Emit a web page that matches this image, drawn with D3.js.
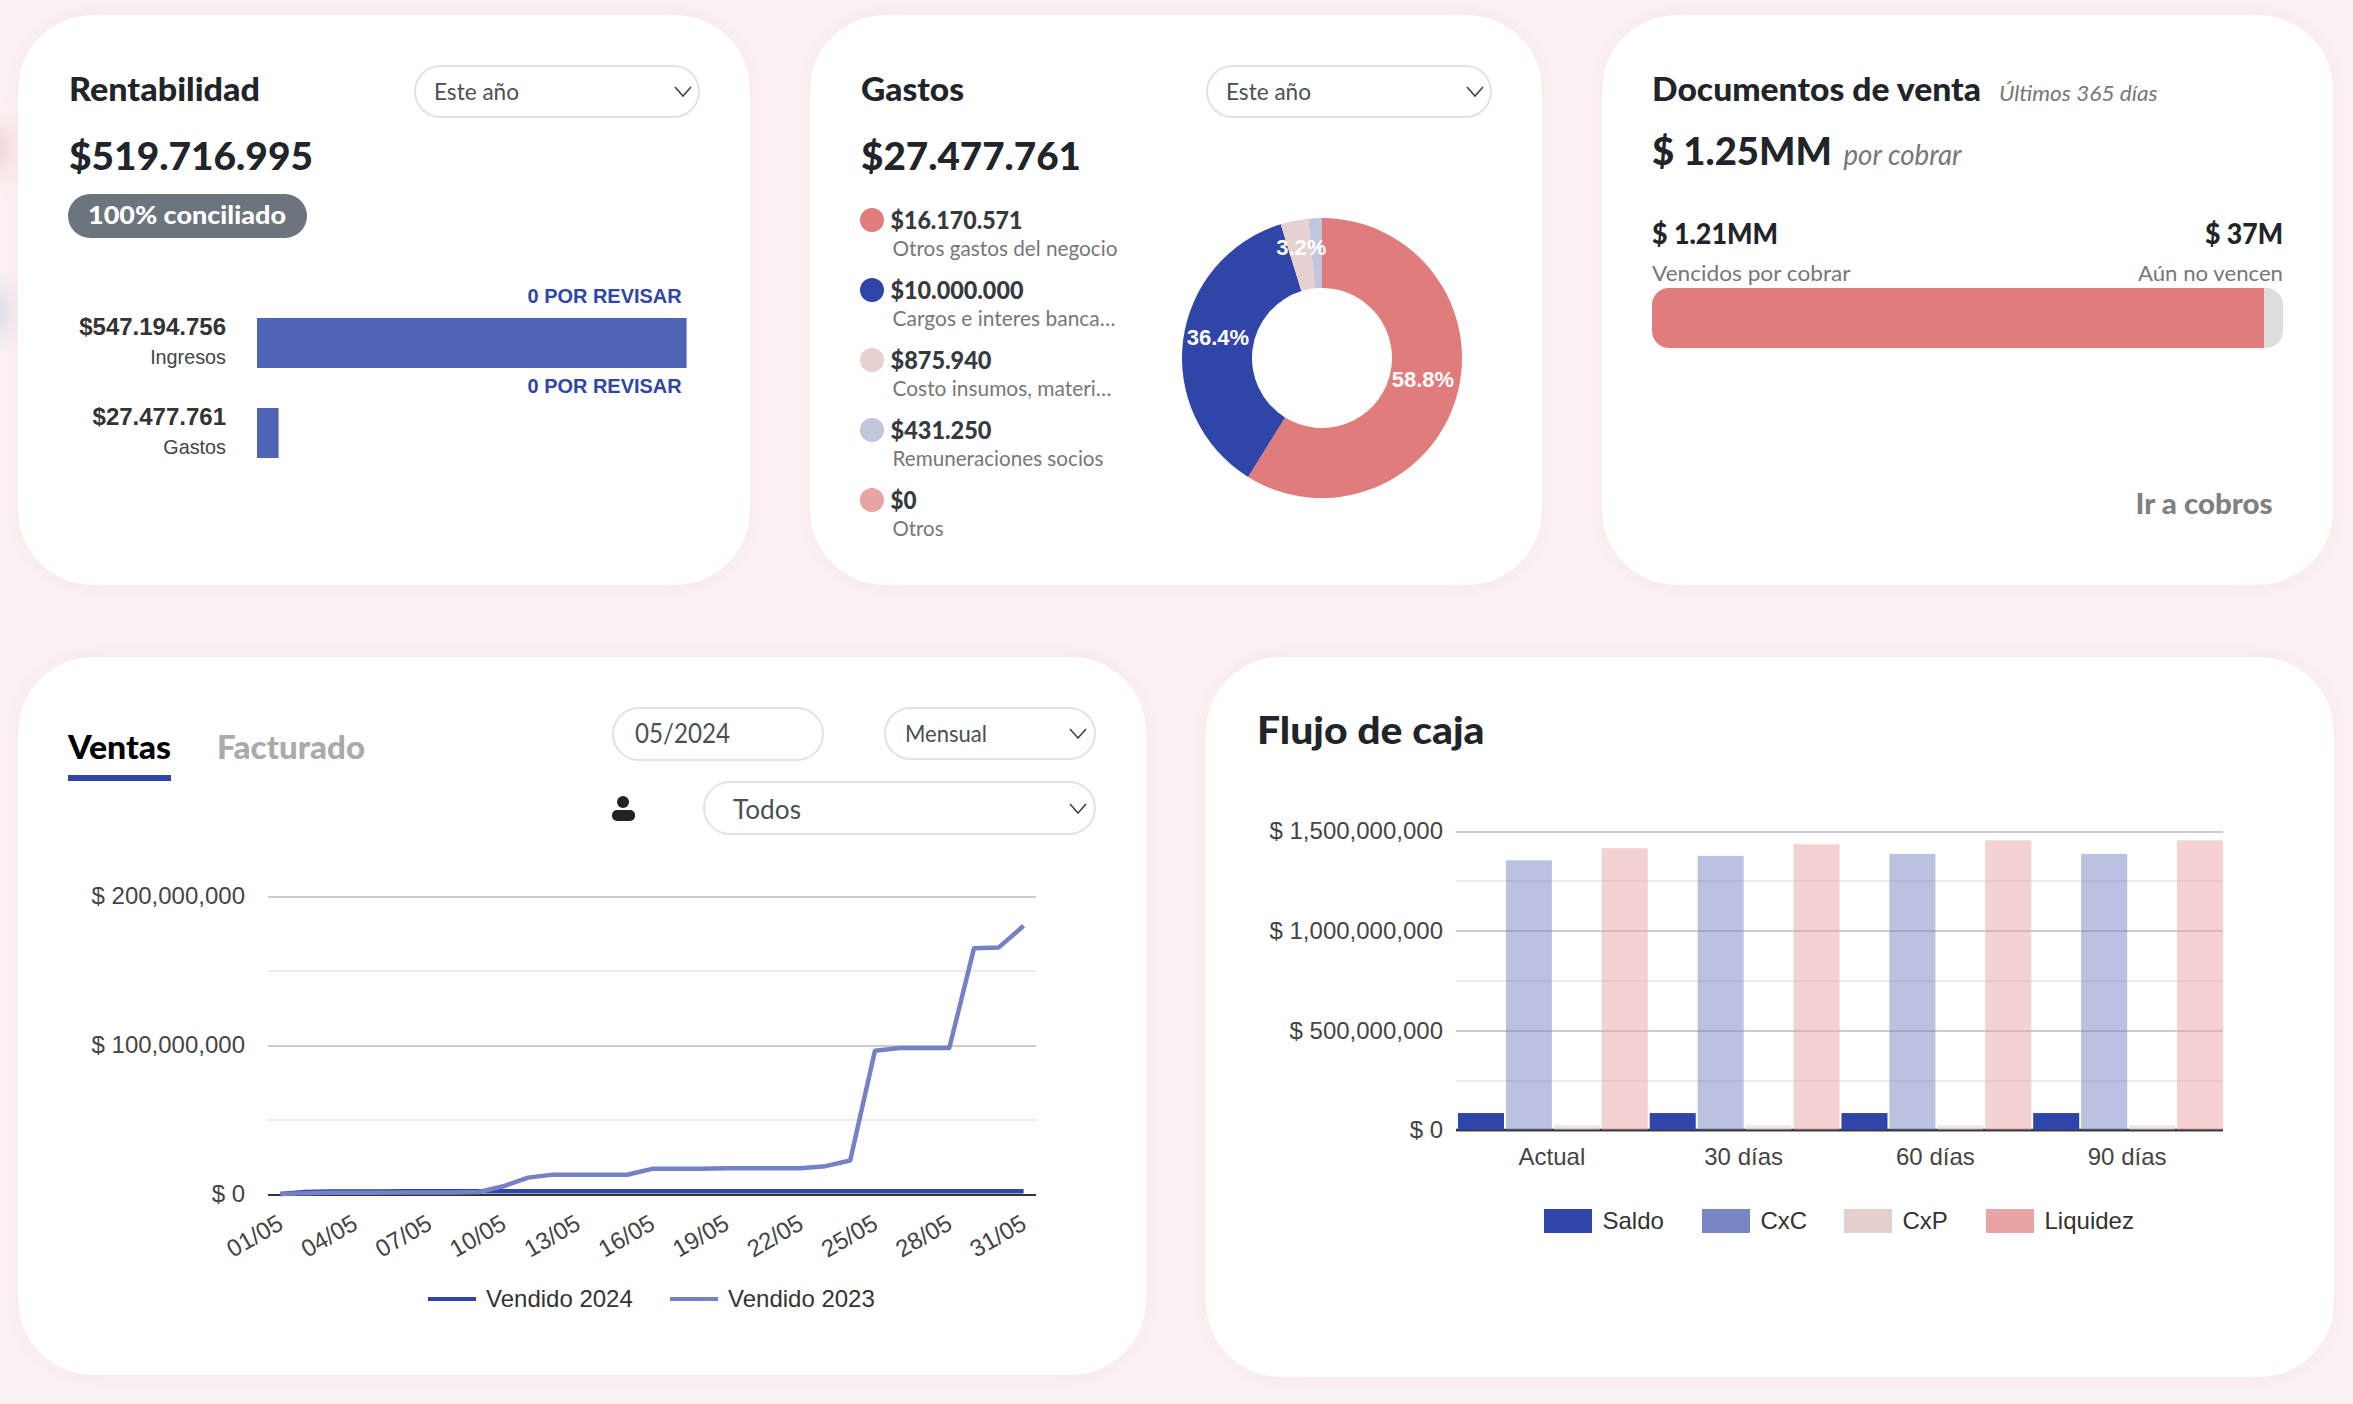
<!DOCTYPE html>
<html>
<head>
<meta charset="utf-8">
<script src="https://cdn.jsdelivr.net/npm/d3@7"></script>
<style>
  html, body { margin: 0; padding: 0; background: #fbf3f3; }
  svg { display: block; }
  text { font-family: Lato, "Noto Sans", sans-serif; }
  .g text, text.g { font-family: "Liberation Sans", Arial, sans-serif; }
  .g .domain { display: none; }
  .g .tick line { shape-rendering: crispEdges; }
</style>
</head>
<body>
<div id="chart"></div>
<script>
// Rentabilidad
const rentLabels = ['Ingresos', 'Gastos'];
const rentValues = [547194756, 27477761];
const rentText = ['$547.194.756', '$27.477.761'];

// Gastos
const gastoLabels = ['Otros gastos del negocio', 'Cargos e interes banca…', 'Costo insumos, materi…', 'Remuneraciones socios', 'Otros'];
const gastoText = ['$16.170.571', '$10.000.000', '$875.940', '$431.250', '$0'];
const gastoValues = [16170571, 10000000, 875940, 431250, 0];
const gastoColors = ['#e07c7c', '#2f45a8', '#e6d0d0', '#c0c6dc', '#e8a5a5'];

// Documentos de venta
const docValues = [1210000000, 37000000];

// Ventas
const dias = ['01/05','02/05','03/05','04/05','05/05','06/05','07/05','08/05','09/05','10/05','11/05','12/05','13/05','14/05','15/05','16/05','17/05','18/05','19/05','20/05','21/05','22/05','23/05','24/05','25/05','26/05','27/05','28/05','29/05','30/05','31/05'];
const diasTicks = ['01/05','04/05','07/05','10/05','13/05','16/05','19/05','22/05','25/05','28/05','31/05'];
const vendido2024 = [0,1.4,1.6,1.7,1.7,1.8,1.8,1.8,1.8,1.8,1.8,1.8,1.8,1.8,1.8,1.8,1.8,1.8,1.8,1.8,1.8,1.8,1.8,1.8,1.8,1.8,1.8,1.8,1.8,1.8,1.8];
const vendido2023 = [0,0.5,0.9,0.9,0.9,1,1,1,1.3,5.2,11,13,13,12.9,12.9,16.9,16.9,16.9,17.3,17.3,17.3,17.3,18.7,22.5,96.2,98,98,98,165,165.5,180];
const ventasMajor = [0, 100000000, 200000000];
const ventasMinor = [50000000, 150000000];

// Flujo de caja
const periodos = ['Actual', '30 días', '60 días', '90 días'];
const flujoSeries = ['Saldo', 'CxC', 'CxP', 'Liquidez'];
const saldo = [85, 85, 85, 85];
const cxc = [1353, 1375, 1385, 1385];
const cxp = [25, 25, 25, 25];
const liquidez = [1414, 1434, 1453, 1453];
const flujoMajor = [0, 500000000, 1000000000, 1500000000];
const flujoMinor = [250000000, 750000000, 1250000000];

const BLUE = '#2f45a8';
const flujoColors = ['#2f45a8', '#7885c3', '#e5cfcf', '#e9a5a5'];
const flujoOpacity = [1, 0.5, 0.5, 0.5];

const svg = d3.select('#chart').append('svg').attr('width', 2353).attr('height', 1404);
const money = d => '$ ' + d3.format(',')(d);

const defs = svg.append('defs');
defs.append('filter').attr('id', 'blur').attr('x', '-100%').attr('y', '-100%').attr('width', '300%').attr('height', '300%')
  .append('feGaussianBlur').attr('stdDeviation', 12);
const glow = defs.append('filter').attr('id', 'glow').attr('x', '-10%').attr('y', '-10%').attr('width', '120%').attr('height', '120%');
glow.append('feDropShadow').attr('dx', 0).attr('dy', 0).attr('stdDeviation', 11).attr('flood-color', '#f8e4e4').attr('flood-opacity', 1);

// faint blobs peeking out at the left edge
svg.append('circle').attr('cx', -14).attr('cy', 150).attr('r', 26).attr('fill', '#f3b9b9').attr('fill-opacity', 0.7).attr('filter', 'url(#blur)');
svg.append('circle').attr('cx', -14).attr('cy', 312).attr('r', 26).attr('fill', '#c3c8e6').attr('fill-opacity', 0.7).attr('filter', 'url(#blur)');

const cards = [[18, 15, 732, 570], [810, 15, 732, 570], [1602, 15, 731, 570], [18, 657, 1128, 718], [1206, 657, 1128, 720]];
svg.selectAll('.card').data(cards).enter().append('rect').attr('class', 'card')
  .attr('x', d => d[0]).attr('y', d => d[1]).attr('width', d => d[2]).attr('height', d => d[3])
  .attr('rx', 75).attr('fill', '#fff').attr('filter', 'url(#glow)');

function txt(x, y, s, size, weight, color, opts) {
  opts = opts || {};
  const t = (opts.parent || svg).append('text').attr('x', x).attr('y', y).text(s)
    .attr('font-size', size).attr('font-weight', weight).attr('fill', color);
  if (opts.anchor) t.attr('text-anchor', opts.anchor);
  if (opts.italic) t.attr('font-style', 'italic');
  if (opts.arial) t.attr('class', 'g');
  // stand-in font has other widths, squeeze to the width measured in the picture
  if (opts.w) t.attr('textLength', opts.w).attr('lengthAdjust', 'spacingAndGlyphs');
  return t;
}

function selectBox(x, y, w, h, label, size, textX, baseline, textW, chevX, chevY) {
  svg.append('rect').attr('x', x).attr('y', y).attr('width', w).attr('height', h).attr('rx', h / 2)
    .attr('fill', '#fff').attr('stroke', '#e2e2e2').attr('stroke-width', 2);
  txt(textX, baseline, label, size, 400, '#495057', { w: textW });
  if (chevX) {
    svg.append('path').attr('d', `M${chevX - 8} ${chevY - 4}L${chevX} ${chevY + 5}L${chevX + 8} ${chevY - 4}`)
      .attr('fill', 'none').attr('stroke', '#444').attr('stroke-width', 1.6);
  }
}

const BOLD = 900;

// ---- Rentabilidad
txt(69, 101, 'Rentabilidad', 32, BOLD, '#212529', { w: 191 });
txt(69, 169.5, '$519.716.995', 38.5, BOLD, '#212529', { w: 244 });
svg.append('rect').attr('x', 68).attr('y', 194).attr('width', 239).attr('height', 44).attr('rx', 22).attr('fill', '#6c757d');
txt(88, 224, '100% conciliado', 25, BOLD, '#fff', { w: 198 });
selectBox(415, 66, 284, 51, 'Este año', 22.5, 434, 100, 85, 683, 91);

const rentX = d3.scaleLinear().domain([0, 547194756]).range([257, 686.6]);
rentLabels.forEach((name, i) => {
  const top = [318, 408][i];
  svg.append('rect').attr('x', rentX(0)).attr('y', top).attr('height', 50)
    .attr('width', rentX(rentValues[i]) - rentX(0)).attr('fill', '#5064b6');
  txt(681.6, top - 15.5, '0 POR REVISAR', 20.8, 700, BLUE, { anchor: 'end', arial: true, w: 154 });
  txt(226, top + 17, rentText[i], 24, 700, '#333', { anchor: 'end', arial: true });
  txt(226, top + 45.5, name, 19.8, 400, '#444', { anchor: 'end', arial: true });
});

// ---- Gastos
txt(861, 101, 'Gastos', 32, BOLD, '#212529', { w: 103 });
txt(861, 169.5, '$27.477.761', 38.5, BOLD, '#212529', { w: 220 });
selectBox(1207, 66, 284, 51, 'Este año', 22.5, 1226, 100, 85, 1475, 91);

const gastoW = [132, 133, 101, 101, 26];
const subW = [225, 223, 219, 211, 51];
gastoLabels.forEach((name, i) => {
  const cy = 220 + i * 70;
  svg.append('circle').attr('cx', 872).attr('cy', cy).attr('r', 12).attr('fill', gastoColors[i]);
  txt(890.5, cy + 8.5, gastoText[i], 24, BOLD, '#343a40', { w: gastoW[i] });
  txt(892.5, cy + 35.5, name, 20.5, 400, '#777', { w: subW[i] });
});

const pie = d3.pie().sort(null).value(d => d)(gastoValues);
const arc = d3.arc().innerRadius(70).outerRadius(140);
const donut = svg.append('g').attr('transform', 'translate(1322,358)');
donut.selectAll('path').data(pie).enter().append('path')
  .attr('d', arc).attr('fill', (d, i) => gastoColors[i]);
const total = d3.sum(gastoValues);
donut.selectAll('text').data(pie.filter(d => d.value / total > 0.02)).enter().append('text')
  .attr('class', 'g')
  .attr('x', d => arc.centroid(d)[0]).attr('y', d => arc.centroid(d)[1])
  .attr('text-anchor', 'middle').attr('font-size', 22).attr('font-weight', 700).attr('fill', '#fff')
  .text(d => d3.format('.1%')(d.value / total));

// ---- Documentos de venta
txt(1652, 101, 'Documentos de venta', 32, BOLD, '#212529', { w: 329 });
txt(1999, 101, 'Últimos 365 días', 22, 400, '#777', { italic: true, w: 158.6 });
txt(1652, 164.5, '$ 1.25MM', 38.5, BOLD, '#212529', { w: 180 });
txt(1843.5, 164.5, 'por cobrar', 28, 400, '#777', { italic: true, w: 118 });
txt(1652, 244, '$ 1.21MM', 28, BOLD, '#212529', { w: 126 });
txt(2283, 244, '$ 37M', 28, BOLD, '#212529', { anchor: 'end', w: 78 });
txt(1652, 280.5, 'Vencidos por cobrar', 22, 400, '#777', { w: 198.5 });
txt(2283, 280.5, 'Aún no vencen', 22, 400, '#777', { anchor: 'end', w: 145 });
txt(2272.6, 514, 'Ir a cobros', 27.5, BOLD, '#808080', { anchor: 'end', w: 137 });

const docX = d3.scaleLinear().domain([0, d3.sum(docValues)]).range([1652, 2283]);
defs.append('clipPath').attr('id', 'docClip').append('rect')
  .attr('x', 1652).attr('y', 288).attr('width', 631).attr('height', 60).attr('rx', 17);
const docBar = svg.append('g').attr('clip-path', 'url(#docClip)');
docBar.append('rect').attr('x', docX(0)).attr('y', 288).attr('height', 60)
  .attr('width', docX(docValues[0]) - docX(0)).attr('fill', '#e07c7c');
docBar.append('rect').attr('x', docX(docValues[0])).attr('y', 288).attr('height', 60)
  .attr('width', docX(d3.sum(docValues)) - docX(docValues[0])).attr('fill', '#dedede');

// ---- Ventas
txt(68, 759, 'Ventas', 32, BOLD, '#000', { w: 103 });
svg.append('rect').attr('x', 68).attr('y', 775).attr('width', 103).attr('height', 6).attr('fill', BLUE);
txt(217, 759, 'Facturado', 32, BOLD, '#aaa', { w: 148 });
selectBox(613, 708, 210, 52, '05/2024', 26, 635, 743, 95);
selectBox(885, 708, 210, 51, 'Mensual', 23, 905, 742, 82, 1078, 733);
selectBox(704, 782, 391, 52, 'Todos', 27, 733, 819, 68, 1078, 808);
svg.append('circle').attr('cx', 623).attr('cy', 802).attr('r', 6).attr('fill', '#222');
svg.append('rect').attr('x', 612).attr('y', 810).attr('width', 23).attr('height', 11).attr('rx', 5).attr('fill', '#222');

const vx = d3.scalePoint().domain(dias).range([268, 1036]).padding(0.5);
const vy = d3.scaleLinear().domain([0, 200000000]).range([1194, 896]);
const vTitle = svg.append('g').attr('class', 'g');
vTitle.append('g').attr('transform', 'translate(268,0)')
  .call(d3.axisLeft(vy).tickValues(ventasMinor).tickSize(-768).tickFormat(''))
  .call(g => g.selectAll('.tick line').attr('stroke', '#ebebeb').attr('stroke-width', 2));
vTitle.append('g').attr('transform', 'translate(268,0)')
  .call(d3.axisLeft(vy).tickValues(ventasMajor).tickSize(-768).tickPadding(23).tickFormat(money))
  .call(g => g.selectAll('.tick line').attr('stroke', d => d === 0 ? '#333' : '#ccc').attr('stroke-width', 2))
  .call(g => g.selectAll('text').attr('font-size', 24).attr('fill', '#444'));

vTitle.append('g').attr('transform', 'translate(0,1194)')
  .call(d3.axisBottom(vx).tickValues(diasTicks).tickSize(0))
  .call(g => g.selectAll('text').attr('font-size', 24).attr('fill', '#444')
    .attr('text-anchor', 'end').attr('dy', 0).attr('y', 0)
    .attr('transform', 'translate(4,34) rotate(-30)'));

const line2 = d3.line().x((d, i) => vx(dias[i])).y(d => vy(d * 1000000));
svg.append('path').attr('d', line2(vendido2024)).attr('fill', 'none').attr('stroke', BLUE).attr('stroke-width', 4.5).attr('stroke-linejoin', 'round');
svg.append('path').attr('d', line2(vendido2023)).attr('fill', 'none').attr('stroke', '#7481c4').attr('stroke-width', 4.5).attr('stroke-linejoin', 'round');

[['Vendido 2024', BLUE, 428], ['Vendido 2023', '#7481c4', 670]].forEach(d => {
  svg.append('rect').attr('x', d[2]).attr('y', 1297).attr('width', 48).attr('height', 4).attr('fill', d[1]);
  txt(d[2] + 58, 1306.5, d[0], 24, 400, '#333', { arial: true });
});

// ---- Flujo de caja
txt(1257, 744, 'Flujo de caja', 37.5, BOLD, '#212529', { w: 227.5 });

const fx = d3.scaleBand().domain(periodos).range([1456, 2223]);
const fInner = d3.scaleBand().domain(flujoSeries).range([1, fx.bandwidth() + 1]).paddingInner(0.04).paddingOuter(0.02);
const fy = d3.scaleLinear().domain([0, 1500000000]).range([1130, 831]);
const flujo = svg.append('g').attr('class', 'g');
flujo.append('g').attr('transform', 'translate(1456,0)')
  .call(d3.axisLeft(fy).tickValues(flujoMinor).tickSize(-767).tickFormat(''))
  .call(g => g.selectAll('.tick line').attr('stroke', '#ebebeb').attr('stroke-width', 2));
flujo.append('g').attr('transform', 'translate(1456,0)')
  .call(d3.axisLeft(fy).tickValues(flujoMajor).tickSize(-767).tickPadding(13).tickFormat(money))
  .call(g => g.selectAll('.tick line').attr('stroke', '#ccc').attr('stroke-width', 2))
  .call(g => g.selectAll('text').attr('font-size', 24).attr('fill', '#444'));

[saldo, cxc, cxp, liquidez].forEach((serie, s) => {
  svg.append('g').selectAll('rect').data(serie).enter().append('rect')
    .attr('x', (d, i) => fx(periodos[i]) + fInner(flujoSeries[s]))
    .attr('width', fInner.bandwidth())
    .attr('y', d => fy(d * 1000000))
    .attr('height', d => fy(0) - fy(d * 1000000))
    .attr('fill', flujoColors[s]).attr('fill-opacity', flujoOpacity[s]);
});
flujo.append('line').attr('x1', 1456).attr('x2', 2223).attr('y1', 1130).attr('y2', 1130).attr('stroke', '#333').attr('stroke-width', 2.5);
flujo.append('g').attr('transform', 'translate(0,1130)')
  .call(d3.axisBottom(fx).tickSize(0).tickPadding(18))
  .call(g => g.selectAll('text').attr('font-size', 24).attr('fill', '#444'));

[1544, 1702, 1844, 1986].forEach((x, i) => {
  svg.append('rect').attr('x', x).attr('y', 1209).attr('width', 48).attr('height', 24).attr('fill', flujoColors[i]);
  txt(x + 58.5, 1229, flujoSeries[i], 24, 400, '#333', { arial: true });
});
</script>
</body>
</html>
